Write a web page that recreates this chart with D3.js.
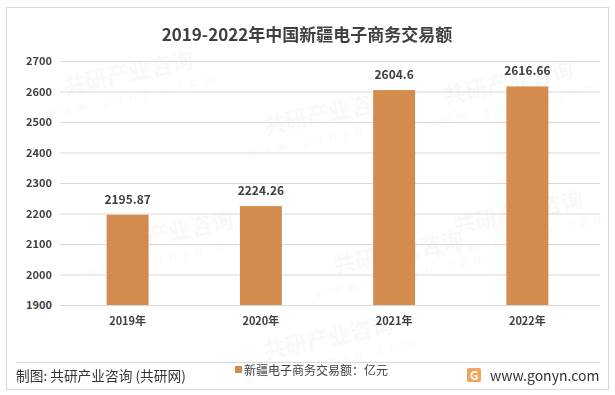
<!DOCTYPE html>
<html>
<head>
<meta charset="utf-8">
<script src="https://cdn.jsdelivr.net/npm/d3@7"></script>
<style>
  body { margin: 0; background: #fff; }
  svg text { font-family: "Microsoft YaHei", "Noto Sans CJK SC", "Noto Sans", sans-serif; }
</style>
</head>
<body>
<svg id="chart" width="615" height="395"></svg>
<script>
const years = ["2019年", "2020年", "2021年", "2022年"];
const values = [2195.87, 2224.26, 2604.6, 2616.66];
const yTicks = [1900, 2000, 2100, 2200, 2300, 2400, 2500, 2600, 2700];

const svg = d3.select("#chart");

// outer frame
svg.append("rect")
  .attr("x", 6.5).attr("y", 7.5)
  .attr("width", 602).attr("height", 382)
  .attr("fill", "#fff").attr("stroke", "#d9d9d9");

// faint watermarks (kept inside the frame)
const wm = svg.append("g").attr("fill", "#000").attr("opacity", 0.03);
[[130, 80], [330, 120], [510, 90], [170, 240], [400, 260], [520, 220], [330, 345]].forEach(([x, y]) => {
  const g = wm.append("g").attr("transform", `translate(${x},${y}) rotate(-12)`);
  g.append("text").attr("text-anchor", "middle").attr("font-size", 22).attr("font-weight", "bold").text("共研产业咨询");
  g.append("text").attr("text-anchor", "middle").attr("y", 20).attr("font-size", 13).attr("letter-spacing", 6).text("www.gonyn.com");
});

// title
svg.append("text")
  .attr("x", 307).attr("y", 41)
  .attr("text-anchor", "middle")
  .attr("font-size", 17).attr("font-weight", "bold")
  .attr("fill", "#404040")
  .text("2019-2022年中国新疆电子商务交易额");

const x = d3.scaleBand().domain(years).range([61, 594]).paddingInner(0.685).paddingOuter(0.3425);
const y = d3.scaleLinear().domain([1900, 2700]).range([305, 61]);

// gridlines
svg.append("g").selectAll("line").data(yTicks).join("line")
  .attr("x1", 60).attr("x2", 600)
  .attr("y1", d => y(d) + 0.5).attr("y2", d => y(d) + 0.5)
  .attr("stroke", "#d9d9d9");

// y axis labels
const yAxis = svg.append("g")
  .attr("transform", "translate(52,0)")
  .call(d3.axisLeft(y).tickValues(yTicks).tickFormat(d3.format("d")).tickSize(0).tickPadding(0));
yAxis.select(".domain").remove();
yAxis.selectAll("text")
  .attr("font-size", 11).attr("font-weight", "bold").attr("fill", "#404040");

// bars
svg.append("g").selectAll("rect").data(values).join("rect")
  .attr("x", (d, i) => x(years[i]))
  .attr("width", x.bandwidth())
  .attr("y", d => y(d))
  .attr("height", d => y(1900) - y(d))
  .attr("fill", "#d38c4e");

// value labels
svg.append("g").selectAll("text").data(values).join("text")
  .attr("x", (d, i) => x(years[i]) + x.bandwidth() / 2)
  .attr("y", d => y(d) - 11)
  .attr("text-anchor", "middle")
  .attr("font-size", 12).attr("font-weight", "bold")
  .attr("fill", "#404040")
  .text(d => d);

// x axis labels
const xAxis = svg.append("g")
  .attr("transform", "translate(0,305)")
  .call(d3.axisBottom(x).tickSize(0).tickPadding(12));
xAxis.select(".domain").remove();
xAxis.selectAll("text")
  .attr("font-size", 11).attr("font-weight", "bold").attr("fill", "#404040");

// footer separator
svg.append("line")
  .attr("x1", 16).attr("x2", 600)
  .attr("y1", 362.5).attr("y2", 362.5)
  .attr("stroke", "#d9d9d9");

svg.append("text")
  .attr("x", 16).attr("y", 381)
  .attr("font-size", 13.7).attr("fill", "#333")
  .text("制图: 共研产业咨询 (共研网)");

// legend
svg.append("rect")
  .attr("x", 235).attr("y", 366)
  .attr("width", 7).attr("height", 7)
  .attr("fill", "#d38c4e");
svg.append("text")
  .attr("x", 244).attr("y", 375)
  .attr("font-size", 12).attr("fill", "#404040")
  .text("新疆电子商务交易额：亿元");

// logo
const logo = svg.append("g").attr("transform", "translate(467,368)");
logo.append("rect").attr("width", 14).attr("height", 14).attr("rx", 2).attr("fill", "#f5a25d");
logo.append("text").attr("x", 7).attr("y", 11.5).attr("text-anchor", "middle")
  .attr("font-size", 12).attr("font-weight", "bold").attr("fill", "#fff").text("G");
svg.append("text")
  .attr("x", 490).attr("y", 381)
  .attr("font-size", 14).attr("fill", "#333")
  .text("www.gonyn.com");
</script>
</body>
</html>
